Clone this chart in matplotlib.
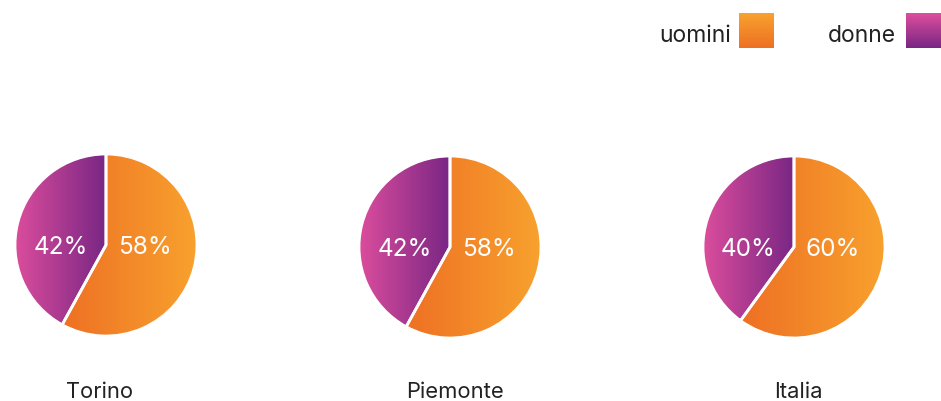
import numpy as np
import matplotlib
matplotlib.use("Agg")
import matplotlib.pyplot as plt
from matplotlib.colors import LinearSegmentedColormap
from matplotlib.patches import Wedge

# ---- data ----
regions = ["Torino", "Piemonte", "Italia"]
uomini = [58, 58, 60]
donne = [42, 42, 40]
series_names = ["uomini", "donne"]

# ---- style ----
plt.rcParams['font.family'] = ['Inter', 'DejaVu Sans']
W, H = 941, 401
fig = plt.figure(figsize=(W / 100, H / 100), dpi=100)
fig.patch.set_facecolor("white")

# colours: (left, right)
orange_cols = ["#EE7024", "#F8A22E"]
purple_cols = ["#DE4E9D", "#782684"]
orange_cmap = LinearSegmentedColormap.from_list("or", orange_cols)
purple_cmap = LinearSegmentedColormap.from_list("pu", purple_cols)
grad_h = np.linspace(0, 1, 256).reshape(1, -1)

centers = [(106, 245), (450, 247), (794, 247)]
R = 91
title_x = [100, 455, 798]


def px_axes(cx, cy, r):
    return fig.add_axes([(cx - r) / W, (H - cy - r) / H, 2 * r / W, 2 * r / H])


for i, name in enumerate(regions):
    cx, cy = centers[i]
    ax = px_axes(cx, cy, R)
    ax.axis("off")
    vals = [uomini[i], donne[i]]
    wedges, _ = ax.pie(vals, startangle=90, counterclock=False, radius=1,
                       colors=["none", "none"],
                       wedgeprops=dict(edgecolor="none", linewidth=0))
    cmaps = [orange_cmap, purple_cmap]
    for w, cm in zip(wedges, cmaps):
        v = w.get_path().vertices
        x0, x1 = v[:, 0].min(), v[:, 0].max()
        y0, y1 = v[:, 1].min(), v[:, 1].max()
        im = ax.imshow(grad_h, cmap=cm, extent=[x0, x1, y0, y1],
                       aspect="auto", interpolation="bilinear", zorder=1)
        im.set_clip_path(w)
        e = Wedge(w.center, w.r, w.theta1, w.theta2, facecolor="none",
                  edgecolor="white", linewidth=2, zorder=3)
        ax.add_patch(e)
    ax.set_xlim(-1, 1)
    ax.set_ylim(-1, 1)
    ax.text(0.43, -0.03, f"{uomini[i]}%", color="white", fontsize=17.5,
            fontweight="normal", ha="center", va="center", zorder=5)
    ax.text(-0.5, -0.03, f"{donne[i]}%", color="white", fontsize=17.5,
            fontweight="normal", ha="center", va="center", zorder=5)
    fig.text(title_x[i] / W, (H - 398.5) / H, name, fontsize=15.8, color="#222222",
             ha="center", va="baseline")

# ---- legend ----
leg_items = [("uomini", orange_cols[::-1], 739, 731),
             ("donne", purple_cols, 906, 896)]
for label, cols, sx, tx in leg_items:
    cm = LinearSegmentedColormap.from_list(label, cols)  # top -> bottom
    lax = fig.add_axes([sx / W, (H - 48) / H, 35 / W, 35 / H])
    lax.imshow(np.linspace(0, 1, 256).reshape(-1, 1), cmap=cm, aspect="auto",
               extent=[0, 1, 0, 1], origin="upper")
    lax.axis("off")
    fig.text(tx / W, (H - 42) / H, label, fontsize=16.5, color="#222222",
             ha="right", va="baseline")

fig.savefig("out.png", dpi=100, facecolor="white")
